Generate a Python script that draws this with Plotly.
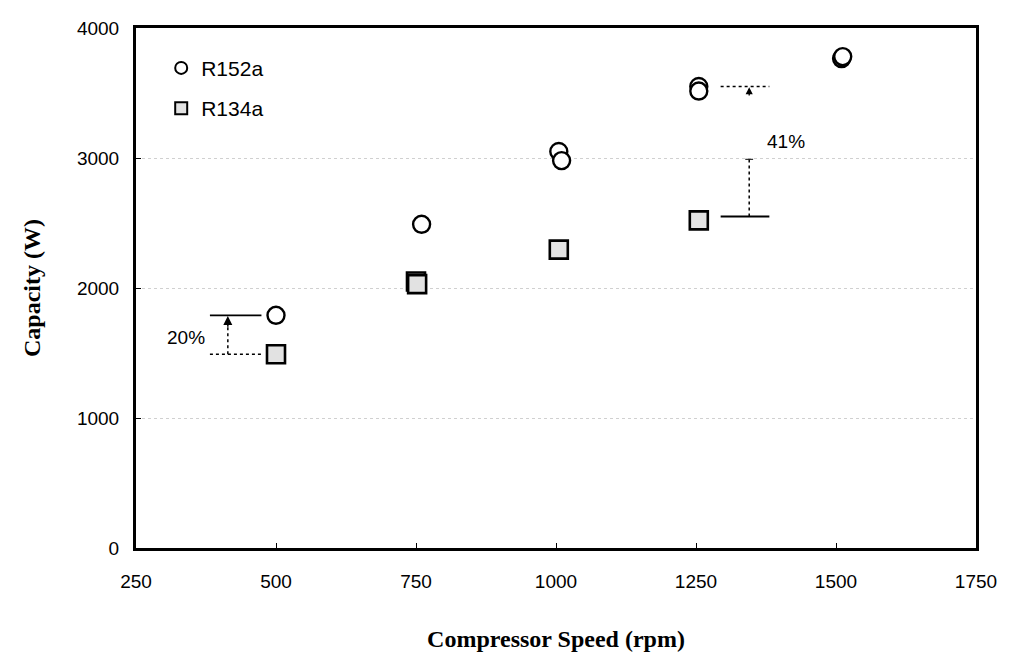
import plotly.graph_objects as go

# R152a data (circles)
r152a_speed = [500, 760, 1005, 1010, 1255, 1255, 1510, 1512]
r152a_capacity = [1790, 2490, 3050, 2980, 3550, 3515, 3765, 3780]
# R134a data (squares)
r134a_speed = [500, 750, 752, 1005, 1255]
r134a_capacity = [1490, 2050, 2030, 2295, 2520]

x_ticks = [250, 500, 750, 1000, 1250, 1500, 1750]
y_ticks = [0, 1000, 2000, 3000, 4000]

fig = go.Figure()
fig.add_trace(go.Scatter(
    x=r152a_speed, y=r152a_capacity, mode="markers", name="R152a",
    legendgroup="a",
    marker=dict(symbol="circle", size=17, color="white",
                line=dict(color="black", width=2.4)),
))
fig.add_trace(go.Scatter(
    x=r134a_speed, y=r134a_capacity, mode="markers", name="R134a",
    legendgroup="b",
    marker=dict(symbol="square", size=18, color="#e2e2e2",
                line=dict(color="black", width=2.6)),
))

# Annotation lines: 20%
line_solid = dict(color="black", width=1.8)
line_dot = dict(color="black", width=1.5, dash="dot")
fig.add_shape(type="line", x0=382, x1=474, y0=1790, y1=1790, line=line_solid)
fig.add_shape(type="line", x0=382, x1=474, y0=1490, y1=1490, line=line_dot)
fig.add_shape(type="line", x0=414, x1=414, y0=1490, y1=1720, line=line_dot)
fig.add_annotation(x=414, y=1785, ax=414, ay=1690, xref="x", yref="y",
                   axref="x", ayref="y", showarrow=True, arrowhead=2,
                   arrowsize=1.2, arrowwidth=1.5, arrowcolor="black", text="")
fig.add_annotation(x=340, y=1620, text="20%", showarrow=False,
                   font=dict(family="Liberation Sans, Arial", size=19, color="black"))

# Annotation lines: 41%
fig.add_shape(type="line", x0=1294, x1=1381, y0=3550, y1=3550, line=line_dot)
fig.add_shape(type="line", x0=1294, x1=1381, y0=2550, y1=2550, line=line_solid)
fig.add_shape(type="line", x0=1345, x1=1345, y0=2550, y1=3010, line=line_dot)
fig.add_shape(type="line", x0=1338, x1=1352, y0=2990, y1=2990,
              line=dict(color="black", width=1))
fig.add_annotation(x=1345, y=3545, ax=1345, ay=3470, xref="x", yref="y",
                   axref="x", ayref="y", showarrow=True, arrowhead=2,
                   arrowsize=1.1, arrowwidth=1.3, arrowcolor="black", text="")
fig.add_annotation(x=1373, y=3130, text="41%", showarrow=False, xanchor="left",
                   font=dict(family="Liberation Sans, Arial", size=19, color="black"))

fig.update_layout(
    width=1009, height=661,
    margin=dict(l=136, r=29, t=28, b=113),
    paper_bgcolor="white", plot_bgcolor="white",
    showlegend=True,
    legend=dict(x=0.03, y=0.962, xanchor="left", yanchor="top",
                bgcolor="rgba(0,0,0,0)", tracegroupgap=10,
                font=dict(family="Liberation Sans, Arial", size=21, color="black"),
                itemsizing="constant", itemwidth=30),
    font=dict(family="Liberation Sans, Arial", color="black"),
)
fig.update_xaxes(
    range=[250, 1750], tickvals=x_ticks, ticktext=[str(v) for v in x_ticks],
    showline=True, linecolor="black", linewidth=3, mirror=True,
    ticks="inside", ticklen=5, tickcolor="black", showgrid=False, zeroline=False,
    tickfont=dict(family="Liberation Sans, Arial", size=19, color="black"),
    ticklabelstandoff=14,
    title=dict(text="<b>Compressor Speed (rpm)</b>", standoff=40,
               font=dict(family="Liberation Serif, Times New Roman", size=24, color="black")),
)
fig.update_yaxes(
    range=[0, 4000], tickvals=y_ticks, ticktext=[str(v) for v in y_ticks],
    showline=True, linecolor="black", linewidth=3, mirror=True,
    ticks="inside", ticklen=5, tickcolor="black",
    showgrid=True, gridcolor="#d0d0d0", griddash="dot", gridwidth=1, zeroline=False,
    tickfont=dict(family="Liberation Sans, Arial", size=19, color="black"),
    ticklabelstandoff=10,
    title=dict(text="<b>Capacity (W)</b>", standoff=30,
               font=dict(family="Liberation Serif, Times New Roman", size=24, color="black")),
)

fig.write_html("out.html")
